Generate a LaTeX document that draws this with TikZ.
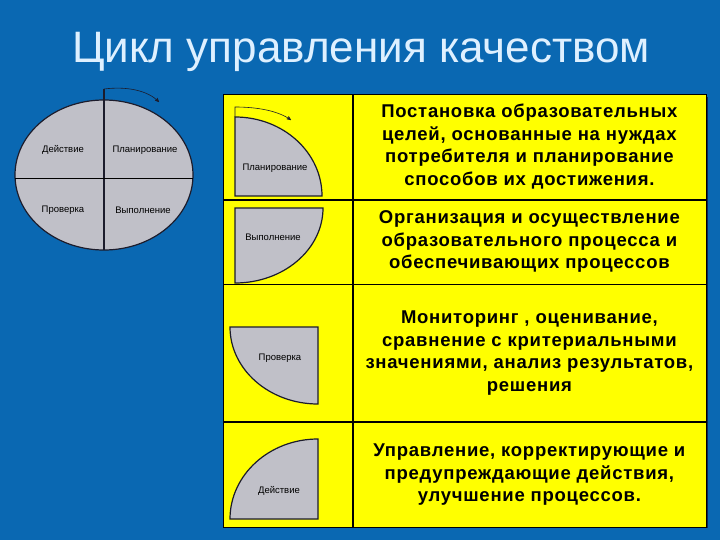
\documentclass[tikz,border=0pt]{standalone}
\usepackage{fontspec}
\setmainfont{Liberation Sans}
\usetikzlibrary{positioning, arrows}
\definecolor{slideblue}{RGB}{10,104,178}
\definecolor{titlecyan}{RGB}{222,240,255}
\definecolor{cellyellow}{RGB}{255,255,0}
\definecolor{diskgray}{RGB}{192,192,200}
\definecolor{rimdark}{RGB}{28,28,44}
\definecolor{shadowblue}{RGB}{8,40,90}
\tikzset{x=1pt, y=-1pt, % one unit is one pixel, y runs down
cell/.style={ % Sets the properties for each table cell
draw=black, line width=0.6pt,
fill=cellyellow,
inner sep=0pt},
stage text/.style={ % Text in the right column
font=\bfseries\fontsize{18.5}{22.5}\selectfont\addfontfeature{LetterSpace=4},
align=center},
phase/.style={ % Small labels on the gray sectors
font=\fontsize{9.5}{10}\selectfont, inner sep=0pt},
sector/.style={ % Gray disc pieces
fill=diskgray, draw=rimdark, line width=1.2pt},
turn/.style={ % Rotation arrow
draw=rimdark, ->, >=stealth', semithick}}

\begin{document}
\begin{tikzpicture}

    \fill[slideblue] (0,0) rectangle (720,540);
    \useasboundingbox (0,0) rectangle (720,540);

    \node[text=titlecyan, font=\fontsize{44}{44}\selectfont, anchor=base] (title) at (361,63) {Цикл управления качеством};

    % whole cycle
    \fill[sector] (104,175) ellipse [x radius=89, y radius=75];
    \draw[rimdark, line width=2pt] (104,89) -- (104,250);
    \draw[black, line width=0.8pt] (15,178) -- (193,178);
    \coordinate (cycle start) at (104,89);
    \coordinate (cycle end) at (159,102);
    \draw[turn] (cycle start) .. controls (128,86) and (148,91) .. (cycle end);
    \node[phase] (act) at (63,150) {Действие};
    \node[phase] (plan) at (145,150) {Планирование};
    \node[phase] (check) at (63,210) {Проверка};
    \node[phase] (do) at (143,210) {Выполнение};

    % table
    \fill[shadowblue] (226,97) rectangle (708,528);
    \node[cell, minimum width=129pt, minimum height=105pt, anchor=north west] (plan pic) at (223,94) {};
    \node[cell, minimum width=129pt, minimum height=84pt, below=0pt of plan pic] (do pic) {};
    \node[cell, minimum width=129pt, minimum height=137pt, below=0pt of do pic] (check pic) {};
    \node[cell, minimum width=129pt, minimum height=105pt, below=0pt of check pic] (act pic) {};

    \node[cell, stage text, minimum width=353pt, minimum height=105pt, right=0pt of plan pic] (plan text)
        {Постановка образовательных\\целей, основанные на нуждах\\потребителя и планирование\\способов их достижения.};
    \node[cell, stage text, minimum width=353pt, minimum height=84pt, right=0pt of do pic] (do text)
        {Организация и осуществление\\образовательного процесса и\\обеспечивающих процессов};
    \node[cell, stage text, minimum width=353pt, minimum height=137pt, right=0pt of check pic] (check text)
        {Мониторинг ,  оценивание,\\сравнение с критериальными\\значениями, анализ результатов,\\решения};
    \node[cell, stage text, minimum width=353pt, minimum height=105pt, right=0pt of act pic] (act text)
        {Управление, корректирующие и\\предупреждающие действия,\\улучшение процессов.};

    % single sectors
    \draw[sector] (235,196) -- (235,117) arc[start angle=-90, end angle=0, x radius=87, y radius=79] -- cycle;
    \coordinate (plan start) at (235,117);
    \coordinate (plan end) at (291,120);
    \draw[turn] (plan start) -- (235,107) .. controls (258,107) and (278,111) .. (plan end);
    \node[phase] (plan 2) at (275,168) {Планирование};

    \draw[sector] (235,208) -- (323,208) arc[start angle=0, end angle=90, x radius=88, y radius=75] -- cycle;
    \node[phase] (do 2) at (273,237) {Выполнение};

    \draw[sector] (318,327) -- (318,404) arc[start angle=90, end angle=180, x radius=88, y radius=77] -- cycle;
    \node[phase] (check 2) at (280,358) {Проверка};

    \draw[sector] (318,519) -- (230,519) arc[start angle=180, end angle=270, x radius=88, y radius=80] -- cycle;
    \node[phase] (act 2) at (279,491) {Действие};

\end{tikzpicture}
\end{document}
